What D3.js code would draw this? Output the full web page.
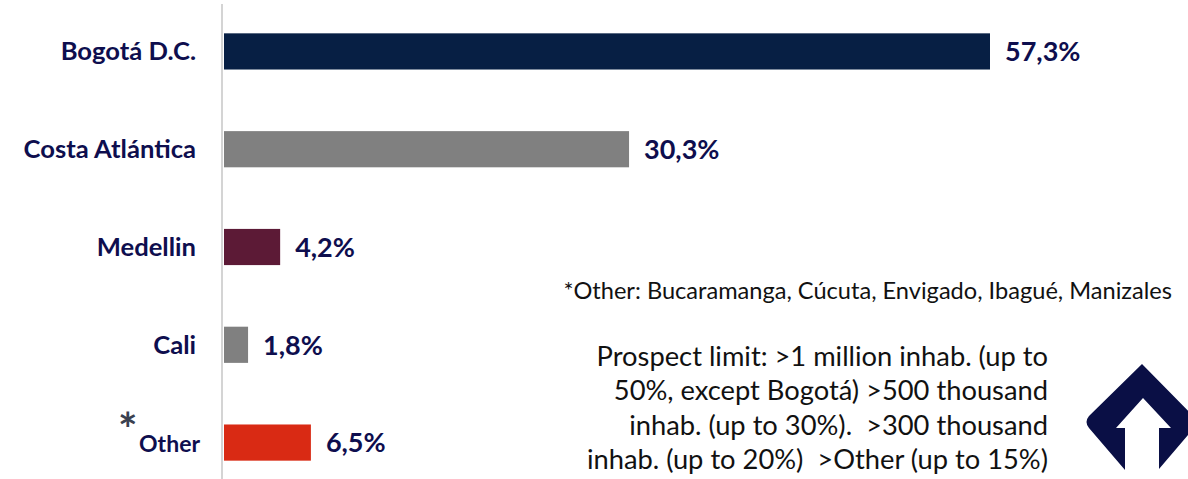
<!DOCTYPE html>
<html><head><meta charset="utf-8">
<script src="https://cdn.jsdelivr.net/npm/d3@7"></script>
<style>body{margin:0;background:#fff;} svg{display:block;} text{white-space:pre;}</style>
</head><body>
<script>
const categories = ["Bogotá D.C.", "Costa Atlántica", "Medellin", "Cali", "Other"];
const values = [57.3, 30.3, 4.2, 1.8, 6.5];
const valueLabels = ["57,3%", "30,3%", "4,2%", "1,8%", "6,5%"];
const colors = ["#071f44", "#808080", "#5c1a36", "#808080", "#d92a14"];
const footnote = "*Other: Bucaramanga, Cúcuta, Envigado, Ibagué, Manizales";
const prospectLines = ["Prospect limit: >1 million inhab. (up to", "50%, except Bogotá) >500 thousand", "inhab. (up to 30%).  >300 thousand", "inhab. (up to 20%)  >Other (up to 15%)"];

const W = 1188, H = 479;
const svg = d3.select("body").append("svg").attr("width", W).attr("height", H);
const x0 = 224;
const x = d3.scaleLinear().domain([0, 57.3]).range([x0, 990]);
const y = d3.scaleBand().domain(categories).range([4, 490]).paddingInner(0.63).paddingOuter(0.3);
const font = "Lato, 'Open Sans', sans-serif";
const navy = "#0e0e4e";

// axis line
svg.append("line").attr("x1", 222).attr("x2", 222).attr("y1", 4).attr("y2", H)
  .attr("stroke", "#d4d4d4").attr("stroke-width", 2);

svg.selectAll("rect.bar").data(categories).join("rect").attr("class", "bar")
  .attr("x", x0).attr("y", d => y(d)).attr("height", y.bandwidth())
  .attr("width", (d, i) => x(values[i]) - x0).attr("fill", (d, i) => colors[i]);

svg.selectAll("text.cat").data(categories).join("text").attr("class", "cat")
  .attr("x", (d, i) => i === 4 ? 200 : 196).attr("y", (d, i) => y(d) + y.bandwidth() / 2 + (i === 4 ? 1 : 0)).attr("dy", "0.35em")
  .attr("text-anchor", "end").attr("font-family", font).attr("font-weight", "bold")
  .attr("font-size", (d, i) => i === 4 ? 23 : 25.6).attr("fill", navy).text(d => d);

svg.append("text").attr("x", 118).attr("y", 446).attr("font-family", font)
  .attr("font-weight", "bold").attr("font-size", 46).attr("fill", "#3a4150").text("*");

svg.selectAll("text.val").data(categories).join("text").attr("class", "val")
  .attr("x", (d, i) => x(values[i]) + 15).attr("y", d => y(d) + y.bandwidth() / 2).attr("dy", "0.36em")
  .attr("font-family", font).attr("font-weight", "bold")
  .attr("font-size", 27).attr("fill", navy).text((d, i) => valueLabels[i]);

svg.append("text").attr("x", 1172).attr("y", 299).attr("text-anchor", "end")
  .attr("font-family", font).attr("font-size", 23.6).attr("fill", "#111").text(footnote);

svg.selectAll("text.pl").data(prospectLines).join("text").attr("class", "pl")
  .attr("x", 1048).attr("y", (d, i) => 366 + i * 34.3).attr("text-anchor", "end")
  .attr("font-family", font).attr("font-size", 27.3).attr("fill", "#111").text(d => d);

// logo
svg.append("path").attr("fill", "#0a0f45")
  .attr("d", "M1142,364 L1199,422 L1159,469 L1159,428 L1171,428 L1143,398 L1116,428 L1125,428 L1125,470 L1089,428 Q1084,422 1089,416 Z");
</script>
</body></html>
